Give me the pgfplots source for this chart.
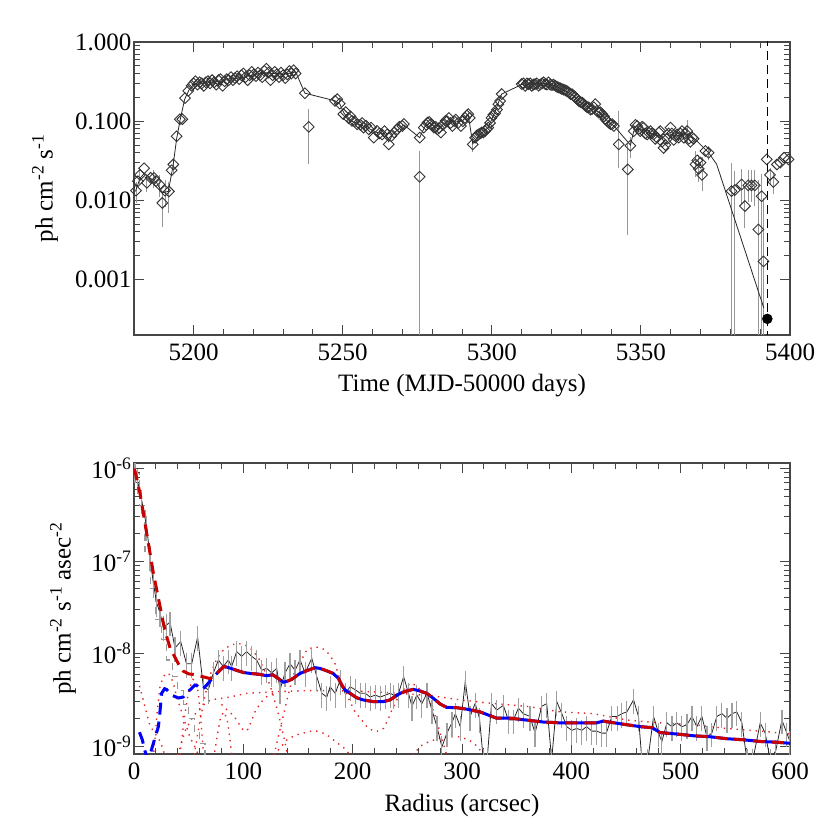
\documentclass[border=0pt]{standalone}
\usepackage{fontspec}
\setmainfont{Liberation Serif}
\usepackage{pgfplots}
\pgfplotsset{compat=1.18}

\definecolor{dred}{RGB}{200,0,0}
\definecolor{mblue}{RGB}{0,0,255}
\definecolor{dotred}{RGB}{228,40,40}
\definecolor{axgray}{RGB}{70,70,70}
\definecolor{errgray}{RGB}{150,150,150}

\newcommand{\lblfont}{\fontsize{25}{28}\selectfont}

\pgfplotsset{
  idl/.style={
    scale only axis, width=656pt,
    axis line style={axgray, line width=1.1pt},
    every tick/.style={axgray, line width=1pt},
    major tick length=10pt, minor tick length=6pt,
    tick align=inside,
    ticklabel style={font=\lblfont},
    /pgf/number format/assume math mode=true,
    /pgf/number format/1000 sep={},
    xticklabel style={yshift=-5pt},
    yticklabel style={xshift=1pt},
  },
  dotc/.style={dotred, line width=1.4pt, dash pattern=on 1.4pt off 5pt},
}

\begin{document}
\begin{tikzpicture}
\path[use as bounding box] (0,0) rectangle (830pt,840pt);

% ---- light curve ----
\begin{axis}[idl, at={(134pt,505pt)}, anchor=south west, height=293pt,
  xmin=5180, xmax=5400, ymode=log, ymin=2e-4, ymax=1,
  xtick={5200,5250,...,5400}, minor x tick num=4,
  ytick={0.001,0.01,0.1,1}, yticklabels={0.001,0.010,0.100,1.000},
  xlabel={Time (MJD-50000 days)},
  ylabel={ph cm\textsuperscript{-2} s\textsuperscript{-1}},
  every axis x label/.style={at={(axis description cs:0.5,-0.1945)}, anchor=base, font=\lblfont},
  every axis y label/.style={at={(axis description cs:-0.1357,0.5)}, rotate=90, anchor=center, font=\lblfont},
  unbounded coords=jump,
]
% error bars, one segment per point
\addplot[errgray, line width=1pt] coordinates {
  (5180.7,0.0093) (5180.7,0.0173) (5180.7,nan)
  (5182.0,0.016) (5182.0,0.026) (5182.0,nan)
  (5184.3,0.0127) (5184.3,0.0207) (5184.3,nan)
  (5186.7,0.0143) (5186.7,0.0243) (5186.7,nan)
  (5188.5,0.0109) (5188.5,0.0209) (5188.5,nan)
  (5189.5,0.0046) (5189.5,0.0133) (5189.5,nan)
  (5190.4,0.0083) (5190.4,0.0183) (5190.4,nan)
  (5191.7,0.007) (5191.7,0.017) (5191.7,nan)
  (5193.2,0.0225) (5193.2,0.0345) (5193.2,nan)
  (5238.6,0.0285) (5238.6,0.142) (5238.6,nan)
  (5275.8,1e-6) (5275.8,0.042) (5275.8,nan)
  (5293.6,0.041) (5293.6,0.061) (5293.6,nan)
  (5342.6,0.0258) (5342.6,0.135) (5342.6,nan)
  (5345.6,0.0037) (5345.6,0.051) (5345.6,nan)
  (5346.5,0.034) (5346.5,0.064) (5346.5,nan)
  (5365.5,0.055) (5365.5,0.105) (5365.5,nan)
  (5368.3,0.02) (5368.3,0.042) (5368.3,nan)
  (5369.4,0.017) (5369.4,0.037) (5369.4,nan)
  (5370.5,0.013) (5370.5,0.035) (5370.5,nan)
  (5372.7,0.032) (5372.7,0.048) (5372.7,nan)
  (5380.4,1e-6) (5380.4,0.030) (5380.4,nan)
  (5381.5,1e-6) (5381.5,0.0235) (5381.5,nan)
  (5383.8,0.0089) (5383.8,0.0249) (5383.8,nan)
  (5384.9,0.0045) (5384.9,0.0145) (5384.9,nan)
  (5386.0,0.0095) (5386.0,0.0245) (5386.0,nan)
  (5387.1,0.0095) (5387.1,0.0245) (5387.1,nan)
  (5388.2,0.0085) (5388.2,0.0245) (5388.2,nan)
  (5389.4,1e-6) (5389.4,0.0183) (5389.4,nan)
  (5390.5,1e-6) (5390.5,0.0213) (5390.5,nan)
  (5391.1,1e-6) (5391.1,0.0107) (5391.1,nan)
  (5393.3,0.016) (5393.3,0.026) (5393.3,nan)
  (5394.4,0.0121) (5394.4,0.0221)
};
% model line
\addplot[black!85, line width=0.8pt] coordinates {
  (5180.5,0.013) (5182,0.019) (5183.5,0.022) (5185.5,0.019) (5187.5,0.017)
  (5189.5,0.0125) (5191.5,0.013) (5193,0.026) (5194.3,0.06) (5195.5,0.105)
  (5197,0.19) (5198.5,0.25) (5200,0.29) (5203,0.30) (5206,0.31) (5209,0.32)
  (5212,0.34) (5215,0.35) (5218,0.37) (5221,0.39) (5224,0.41) (5227,0.40)
  (5230,0.39) (5233,0.41) (5234.2,0.42) (5237.3,0.226) (5247.4,0.181)
  (5249,0.165) (5250.5,0.125) (5253,0.10) (5256,0.09) (5259,0.08)
  (5261.5,0.072) (5264,0.07) (5265.4,0.055) (5267,0.07) (5270.5,0.09)
  (5275.8,0.062) (5277.5,0.085) (5279,0.095) (5282,0.08) (5285,0.1)
  (5288,0.1) (5290,0.1) (5292.1,0.12) (5293.6,0.052) (5296,0.068)
  (5298.8,0.083) (5301,0.13) (5303.3,0.22) (5310,0.29) (5314,0.30)
  (5318,0.30) (5321,0.28) (5324,0.25) (5327,0.215) (5330,0.17) (5333,0.145)
  (5336,0.13) (5339,0.098) (5341,0.087) (5346.5,0.05) (5347.6,0.075)
  (5350,0.08) (5353,0.07) (5356,0.065) (5359,0.07) (5362,0.065) (5365,0.07)
  (5368,0.06) (5372.7,0.04) (5375.4,0.0286) (5391.2,0.00044)
};
% data points
\addplot[only marks, mark=square, mark size=3.8pt,
  mark options={rotate=45, draw=black!80, line width=0.9pt, fill=none}] coordinates {
  (5180.7,0.0133) (5181.3,0.0175) (5182.0,0.021) (5183.4,0.0254) (5184.3,0.0167)
  (5185.6,0.0193) (5186.7,0.0193) (5187.4,0.0175) (5188.5,0.0159) (5189.5,0.0093)
  (5190.4,0.0133) (5191.7,0.013) (5192.6,0.024) (5193.2,0.0285) (5194.3,0.0645)
  (5195.4,0.106) (5196.2,0.106) (5197.1,0.196) (5198.2,0.242) (5199.3,0.28)
  (5200.0,0.30) (5200.6,0.32) (5201.3,0.29) (5202.0,0.31) (5202.7,0.30)
  (5203.4,0.28) (5204.1,0.31) (5204.8,0.32) (5205.5,0.30) (5206.2,0.33)
  (5206.9,0.31) (5207.6,0.29) (5208.3,0.33) (5209.0,0.34) (5209.7,0.28)
  (5210.4,0.32) (5211.1,0.34) (5211.8,0.33) (5212.5,0.36) (5213.2,0.33)
  (5213.9,0.35) (5214.6,0.37) (5215.3,0.34) (5216.0,0.38) (5216.7,0.40)
  (5217.4,0.36) (5218.1,0.33) (5218.8,0.38) (5219.5,0.42) (5220.2,0.39)
  (5220.9,0.37) (5221.6,0.41) (5222.3,0.38) (5223.0,0.36) (5223.7,0.43)
  (5224.4,0.46) (5225.1,0.41) (5225.8,0.33) (5226.5,0.38) (5227.2,0.42)
  (5227.9,0.39) (5228.6,0.36) (5229.3,0.41) (5230.0,0.38) (5230.7,0.35)
  (5231.4,0.39) (5232.1,0.43) (5232.8,0.40) (5233.5,0.44) (5234.2,0.40)
  (5237.3,0.226) (5238.6,0.085)
  (5247.4,0.181) (5248.2,0.19) (5249.0,0.167) (5250.2,0.123) (5251.0,0.13)
  (5252.0,0.109) (5252.6,0.115) (5253.1,0.101) (5254.0,0.10) (5254.8,0.0916)
  (5255.9,0.090) (5256.5,0.095) (5257.0,0.083) (5257.8,0.088) (5258.7,0.079)
  (5259.5,0.083) (5260.4,0.062) (5261.5,0.0753) (5262.3,0.07) (5263.2,0.068)
  (5264.0,0.075) (5264.9,0.068) (5265.4,0.051) (5266.3,0.065) (5267.2,0.072)
  (5268.3,0.079) (5269.0,0.085) (5270.0,0.087) (5270.5,0.092)
  (5275.8,0.062) (5275.8,0.0199)
  (5277.2,0.083) (5278.0,0.09) (5278.4,0.096) (5279.0,0.098) (5279.5,0.092)
  (5280.1,0.088) (5280.6,0.083) (5281.2,0.085) (5281.7,0.079) (5282.3,0.082)
  (5282.9,0.072) (5283.6,0.09) (5284.5,0.101) (5285.0,0.10) (5285.6,0.11)
  (5286.2,0.095) (5286.8,0.087) (5287.4,0.10) (5287.9,0.105) (5288.7,0.095)
  (5289.6,0.087) (5290.3,0.10) (5291.0,0.11) (5291.6,0.118) (5292.1,0.123)
  (5292.6,0.11) (5293.6,0.051) (5294.4,0.062) (5295.0,0.066) (5295.5,0.068)
  (5296.1,0.07) (5296.6,0.072) (5297.2,0.072) (5297.7,0.075) (5298.3,0.08)
  (5298.8,0.083) (5299.4,0.095) (5299.9,0.11) (5300.5,0.12) (5301.1,0.126)
  (5301.7,0.14) (5302.2,0.164) (5302.8,0.18) (5303.3,0.22)
  (5310.0,0.294) (5310.6,0.30) (5311.2,0.28) (5311.8,0.30) (5312.3,0.294)
  (5312.9,0.30) (5313.4,0.28) (5314.0,0.29) (5314.5,0.294) (5315.1,0.30)
  (5315.7,0.28) (5316.2,0.29) (5316.8,0.30) (5317.4,0.31) (5317.9,0.294)
  (5318.5,0.29) (5319.0,0.309) (5319.6,0.29) (5320.2,0.285) (5320.7,0.29)
  (5321.3,0.28) (5321.9,0.27) (5322.4,0.267) (5323.0,0.26) (5323.5,0.255)
  (5324.1,0.25) (5324.7,0.245) (5325.2,0.24) (5325.8,0.231) (5326.4,0.22)
  (5326.9,0.22) (5327.5,0.21) (5328.0,0.20) (5328.6,0.19) (5329.1,0.181)
  (5329.7,0.175) (5330.3,0.172) (5330.8,0.165) (5331.4,0.156) (5332.0,0.15)
  (5332.5,0.149) (5333.1,0.14) (5333.6,0.142) (5334.2,0.15) (5334.7,0.164)
  (5335.3,0.135) (5335.9,0.128) (5336.4,0.13) (5337.0,0.123) (5337.6,0.115)
  (5338.1,0.106) (5338.7,0.10) (5339.2,0.096) (5339.8,0.092) (5340.4,0.092)
  (5340.9,0.087) (5342.6,0.051) (5345.6,0.0246) (5346.5,0.049) (5347.6,0.075)
  (5348.2,0.09) (5348.7,0.087) (5349.3,0.08) (5349.8,0.075) (5350.4,0.085)
  (5350.9,0.083) (5351.5,0.07) (5352.1,0.068) (5352.6,0.072) (5353.2,0.075)
  (5353.7,0.07) (5354.3,0.068) (5354.8,0.06) (5355.4,0.062) (5356.0,0.072)
  (5356.5,0.075) (5357.1,0.055) (5357.6,0.046) (5358.2,0.05) (5358.8,0.06)
  (5359.3,0.07) (5359.9,0.083) (5360.4,0.07) (5361.0,0.058) (5361.6,0.065)
  (5362.1,0.068) (5362.7,0.062) (5363.2,0.07) (5363.8,0.075) (5364.4,0.062)
  (5365.0,0.07) (5365.5,0.075) (5366.1,0.06) (5366.6,0.055) (5367.2,0.062)
  (5367.7,0.06) (5368.3,0.0285) (5368.9,0.032) (5369.4,0.025) (5370.0,0.03)
  (5370.5,0.021) (5371.6,0.042) (5372.7,0.040)
  (5380.4,0.0131) (5381.5,0.0135) (5383.8,0.0159) (5384.9,0.0085) (5386.0,0.0155)
  (5387.1,0.0155) (5388.2,0.0155) (5389.4,0.0043) (5390.5,0.0113) (5391.1,0.0017)
  (5392.2,0.033) (5393.3,0.021) (5394.4,0.0171) (5395.6,0.0285) (5396.7,0.030)
  (5398.0,0.0346) (5399.5,0.033)
};
% vertical dashed line and filled circle
\addplot[black, line width=1.3pt, dash pattern=on 9pt off 5pt] coordinates {(5392.4,1e-5) (5392.4,2)};
\addplot[only marks, mark=*, mark size=5pt, mark options={fill=black, draw=black}] coordinates {(5392.4,3.2e-4)};
\end{axis}

% ---- radial profile ----
\begin{axis}[idl, at={(134pt,86pt)}, anchor=south west, height=291pt,
  xmin=0, xmax=600, ymode=log, ymin=8.2e-10, ymax=1.15e-6,
  xtick={0,100,...,600}, minor x tick num=4,
  ytick={1e-9,1e-8,1e-7,1e-6},
  yticklabels={10\textsuperscript{-9},10\textsuperscript{-8},10\textsuperscript{-7},10\textsuperscript{-6}},
  xlabel={Radius (arcsec)},
  ylabel={ph cm\textsuperscript{-2} s\textsuperscript{-1} asec\textsuperscript{-2}},
  every axis x label/.style={at={(axis description cs:0.5,-0.199)}, anchor=base, font=\lblfont},
  every axis y label/.style={at={(axis description cs:-0.1082,0.5)}, rotate=90, anchor=center, font=\lblfont},
]
% dotted components
\addplot[dotc] coordinates {(40,7.94e-10) (47,1.48e-9) (54,2.09e-9) (63,2.75e-9) (70,3.16e-9)
  (88,3.39e-9) (103,3.72e-9) (118,3.80e-9) (133,3.89e-9) (161,3.98e-9) (182,3.98e-9)
  (213,3.89e-9) (243,3.72e-9) (274,3.47e-9) (298,3.16e-9) (329,2.88e-9) (359,2.69e-9)
  (390,2.34e-9) (420,2.24e-9) (451,1.91e-9) (481,1.78e-9) (512,1.70e-9) (542,1.55e-9)
  (573,1.45e-9) (600,1.35e-9)};
\addplot[dotc] coordinates {(55,7.94e-10) (60,1.78e-9) (65,3.55e-9) (70,6.03e-9) (76,8.91e-9)
  (82,1.10e-8) (88,1.23e-8) (95,1.29e-8) (102,1.23e-8) (108,1.10e-8) (114,8.91e-9)
  (120,6.31e-9) (126,3.98e-9) (132,2.24e-9) (138,1.12e-9) (142,6.31e-10)};
\addplot[dotc] coordinates {(128,7.94e-10) (135,1.78e-9) (142,3.98e-9) (148,7.08e-9) (155,9.33e-9)
  (158,1.10e-8) (164,1.17e-8) (168.6,1.17e-8) (174.7,1.10e-8) (179.3,9.55e-9) (183.9,7.76e-9)
  (188.5,5.13e-9) (193,3.89e-9) (197.6,3.02e-9) (202.2,2.34e-9) (208.3,1.91e-9) (212.9,1.62e-9)
  (219,1.45e-9) (223.6,1.45e-9) (228.2,1.55e-9) (232.8,2.0e-9) (235.8,2.45e-9) (240.4,3.16e-9)
  (246.5,4.07e-9) (252.6,4.79e-9) (257.1,4.57e-9) (261.7,4.07e-9) (267.8,3.39e-9)
  (272.4,2.69e-9) (276.9,1.91e-9) (280,1.38e-9) (283,1.07e-9) (286,7.94e-10)};
\addplot[dotc] coordinates {(128,7.94e-10) (135,1.0e-9) (140,1.17e-9) (148,1.32e-9) (155,1.38e-9)
  (162,1.45e-9) (167,1.45e-9) (173,1.38e-9) (179,1.26e-9) (185,1.10e-9) (192,9.55e-10) (198,7.94e-10)};
\addplot[dotc] coordinates {(255,7.94e-10) (262,1.0e-9) (270,1.12e-9) (278,1.20e-9) (287,1.26e-9)
  (297,1.26e-9) (303,1.20e-9) (310,1.10e-9) (315,9.55e-10) (320,7.94e-10)};
\addplot[dotc] coordinates {(5,4.47e-9) (8,3.31e-9) (11,2.40e-9) (14.6,1.66e-9) (19,1.38e-9)
  (24,1.12e-9) (27,8.91e-10) (30,6.31e-10)};
\addplot[dotc] coordinates {(17,6.31e-10) (19,1.12e-9) (21,2.24e-9) (23.8,4.37e-9) (26.8,5.62e-9)
  (29.9,6.17e-9) (32.9,5.89e-9) (36,4.79e-9) (39,3.39e-9) (45,2.09e-9) (51,1.26e-9)
  (57,9.12e-10) (62,6.31e-10)};
\addplot[dotc] coordinates {(42,7.94e-10) (46,2.0e-9) (50,3.98e-9) (54,5.25e-9) (57,5.01e-9)
  (59,3.55e-9) (61,2.0e-9) (63,1.0e-9) (65,6.31e-10)};
\addplot[dotc] coordinates {(72,6.31e-10) (76,1.26e-9) (79,2.0e-9) (82,2.34e-9) (85,2.0e-9)
  (87,1.41e-9) (89,8.91e-10) (91,6.31e-10)};
\addplot[dotc] coordinates {(80,2.82e-9) (86,2.40e-9) (90,2.19e-9) (94,1.91e-9) (98,1.58e-9)
  (101,1.45e-9) (104,1.51e-9) (107,1.82e-9) (111,2.40e-9) (116,2.95e-9) (122,3.47e-9) (128,3.72e-9)};
% gray dashed core profile
\addplot[const plot, gray!80, line width=1.2pt, dash pattern=on 7pt off 5pt] coordinates {
  (0,8.91e-7) (5,3.98e-7) (10,1.26e-7) (15,5.01e-8) (20,2.34e-8) (25,1.41e-8) (30,8.51e-9)
  (35,5.62e-9) (40,3.98e-9) (45,2.82e-9) (50,2.0e-9) (55,1.41e-9) (60,1.07e-9) (65,6.31e-10)
  (70,6.31e-10)};
% data with error bars
\addplot[black!85, line width=0.8pt, error bars/.cd, y dir=both, y fixed relative=0.3,
  error mark=none, error bar style={draw=gray!75, line width=1.2pt}] coordinates {
  (0.9,1.0e-6) (3,7.59e-7) (7,4.57e-7) (11.6,2.34e-7) (14.6,1.12e-7) (17.7,5.75e-8)
  (20.7,3.55e-8) (23.8,2.75e-8) (26.8,1.95e-8) (29.9,2.04e-8) (32.9,2.19e-8) (37.5,1.15e-8)
  (42.7,1.35e-8) (48,7.76e-9) (52.8,7.76e-9) (58.2,1.51e-8) (63.4,4.37e-9) (68,4.07e-9)
  (72.6,6.17e-9) (77.2,8.51e-9) (81.7,7.24e-9) (86.3,8.51e-9) (89.3,7.24e-9) (93.9,1.05e-8)
  (98.5,9.33e-9) (103,1.05e-8) (107.6,9.33e-9) (112.2,8.51e-9) (116.8,6.61e-9) (121.4,6.92e-9)
  (125.9,6.17e-9) (130.5,6.92e-9) (133.6,4.07e-9) (138.1,6.17e-9) (142.7,7.76e-9) (147.3,6.61e-9)
  (151.9,8.51e-9) (156.5,6.17e-9) (162.6,8.91e-9) (167.2,5.62e-9) (171.8,3.72e-9) (176.3,3.39e-9)
  (179.4,4.37e-9) (184,3.72e-9) (188.6,5.13e-9) (193.1,3.72e-9) (197.7,4.37e-9) (202.3,4.07e-9)
  (206.9,3.72e-9) (211.5,3.72e-9) (216,3.39e-9) (220.6,3.55e-9) (225.2,3.39e-9) (229.8,3.55e-9)
  (234.4,3.72e-9) (237.4,3.55e-9) (242,3.72e-9) (246.6,5.62e-9) (251.1,3.72e-9) (254.2,2.69e-9)
  (258.7,3.55e-9) (263.3,2.88e-9) (267.9,3.72e-9) (272.5,2.45e-9) (277.1,1.62e-9) (281.6,9.77e-10)
  (286.2,1.38e-9) (290.8,1.78e-9) (293.9,2.24e-9) (298.4,1.62e-9) (303,5.01e-9) (307.4,2.09e-9)
  (312,2.88e-9) (316,2.0e-9) (319.5,7.08e-10) (323,7.08e-10) (327,2.88e-9) (331.7,2.45e-9)
  (337.8,2.75e-9) (342.4,1.91e-9) (347,1.91e-9) (351.6,2.57e-9) (356,2.24e-9) (362.2,2.09e-9)
  (366.8,1.38e-9) (372.9,2.69e-9) (377.5,2.88e-9) (382,7.08e-10) (386.7,3.02e-9) (391.3,2.24e-9)
  (395.8,1.62e-9) (400.4,1.48e-9) (405,1.55e-9) (409.6,1.48e-9) (414,1.62e-9) (418.8,1.45e-9)
  (423,1.45e-9) (427.9,1.38e-9) (432,1.38e-9) (437.1,2.09e-9) (442,2.09e-9) (446.2,2.24e-9)
  (450.8,2.34e-9) (456.9,3.16e-9) (461.4,2.09e-9) (464.5,7.08e-10) (470,7.08e-10) (475.2,2.09e-9)
  (479.8,1.38e-9) (482.8,1.12e-9) (487.4,1.78e-9) (492,1.62e-9) (496.5,1.78e-9) (501,1.62e-9)
  (505.7,1.70e-9) (510.3,2.09e-9) (514.8,1.62e-9) (519.4,2.09e-9) (524,1.26e-9) (528.5,1.38e-9)
  (533.1,2.09e-9) (537.7,2.24e-9) (542.3,2.0e-9) (546.9,2.24e-9) (551.4,2.34e-9) (556,1.78e-9)
  (560.6,7.08e-10) (566,7.08e-10) (572.8,1.78e-9) (577.3,1.38e-9) (581.9,7.08e-10) (587,8.91e-10)
  (592.6,1.91e-9) (597.1,1.38e-9) (600,1.12e-9)
};
% blue model (separate part dashed)
\addplot[mblue, line width=3pt, dash pattern=on 12pt off 7pt] coordinates {
  (5,1.41e-9) (7.6,1.17e-9) (9.7,9.12e-10) (12.5,7.08e-10) (15,8.32e-10) (17.5,1.05e-9)
  (20,1.32e-9) (22.3,1.62e-9) (23.5,2.19e-9) (25.3,3.72e-9) (28,4.17e-9) (30,4.07e-9)
  (34.4,3.55e-9) (40.6,3.31e-9) (45.1,3.39e-9) (49.7,3.89e-9) (55.8,4.57e-9) (58,4.47e-9)
  (61.9,4.07e-9) (65,4.37e-9) (68,4.79e-9) (72,5.50e-9) (77,6.31e-9)};
% blue model (merged part, under the red dashes)
\addplot[mblue, line width=3pt] coordinates {
  (77,6.31e-9) (82,7.24e-9) (86,7.08e-9) (91,6.76e-9) (100,6.24e-9) (106,6.11e-9)
  (115,5.96e-9) (121,5.77e-9) (127,5.89e-9) (132,5.37e-9) (136.6,4.90e-9) (140,5.01e-9)
  (144,5.25e-9) (152,6.11e-9) (158,6.53e-9) (165.5,7.03e-9) (170,6.92e-9) (176,6.53e-9)
  (182,6.11e-9) (187,5.40e-9) (190,4.57e-9) (193,4.04e-9) (197.5,3.72e-9) (203.6,3.33e-9)
  (209.7,3.15e-9) (219,3.02e-9) (228,3.02e-9) (234,3.15e-9) (238.7,3.42e-9) (243.3,3.72e-9)
  (249.4,3.94e-9) (255.5,4.10e-9) (261.6,3.94e-9) (267.7,3.72e-9) (273.8,3.28e-9)
  (280,2.85e-9) (286,2.62e-9) (295,2.60e-9) (304,2.51e-9) (316.5,2.34e-9) (331.7,2.0e-9)
  (344,2.0e-9) (359,1.91e-9) (374,1.82e-9) (390,1.78e-9) (423,1.78e-9) (429,1.86e-9)
  (445,1.74e-9) (463,1.62e-9) (474,1.58e-9) (481,1.40e-9) (496,1.35e-9) (512,1.29e-9)
  (527,1.26e-9) (542,1.20e-9) (557,1.17e-9) (573,1.12e-9) (588,1.10e-9) (600,1.07e-9)};
% red model
\addplot[dred, line width=3pt, dash pattern=on 12pt off 7pt] coordinates {
  (0,1.0e-6) (1,9.33e-7) (5.5,5.37e-7) (11.6,2.0e-7) (17.7,7.41e-8) (23.8,3.24e-8)
  (27,2.09e-8) (30,1.51e-8) (33,1.15e-8) (37,9.33e-9) (41,7.59e-9) (45,6.46e-9)
  (50,6.03e-9) (57,5.89e-9) (63,5.62e-9) (69.5,5.37e-9) (74,5.75e-9) (77,6.31e-9)
  (82,7.24e-9) (86,7.08e-9) (91,6.76e-9) (100,6.24e-9) (106,6.11e-9)
  (115,5.96e-9) (121,5.77e-9) (127,5.89e-9) (132,5.37e-9) (136.6,4.90e-9) (140,5.01e-9)
  (144,5.25e-9) (152,6.11e-9) (158,6.53e-9) (165.5,7.03e-9) (170,6.92e-9) (176,6.53e-9)
  (182,6.11e-9) (187,5.40e-9) (190,4.57e-9) (193,4.04e-9) (197.5,3.72e-9) (203.6,3.33e-9)
  (209.7,3.15e-9) (219,3.02e-9) (228,3.02e-9) (234,3.15e-9) (238.7,3.42e-9) (243.3,3.72e-9)
  (249.4,3.94e-9) (255.5,4.10e-9) (261.6,3.94e-9) (267.7,3.72e-9) (273.8,3.28e-9)
  (280,2.85e-9) (286,2.62e-9) (295,2.60e-9) (304,2.51e-9) (316.5,2.34e-9) (331.7,2.0e-9)
  (344,2.0e-9) (359,1.91e-9) (374,1.82e-9) (390,1.78e-9) (423,1.78e-9) (429,1.86e-9)
  (445,1.74e-9) (463,1.62e-9) (474,1.58e-9) (481,1.40e-9) (496,1.35e-9) (512,1.29e-9)
  (527,1.26e-9) (542,1.20e-9) (557,1.17e-9) (573,1.12e-9) (588,1.10e-9) (600,1.07e-9)};
\end{axis}
\end{tikzpicture}
\end{document}
